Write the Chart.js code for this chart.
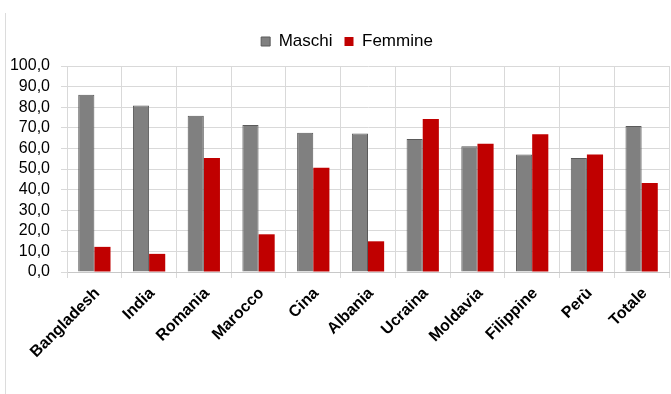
<!DOCTYPE html>
<html>
<head>
<meta charset="utf-8">
<script src="https://cdn.jsdelivr.net/npm/chart.js@4.4.1/dist/chart.umd.min.js"></script>
<style>
    body { margin: 0; background: #fff; }
    #wrap { position: relative; width: 671px; height: 394px; }
    #side-line { position: absolute; left: 5px; top: 13px; width: 1px; height: 381px; background: #dcdcdc; }
</style>
</head>
<body>
<div id="wrap">
    <div id="side-line"></div>
    <canvas id="myChart" width="671" height="394"></canvas>
</div>
<script>
/*** Data ***/
const paesi = ["Bangladesh", "India", "Romania", "Marocco", "Cina", "Albania", "Ucraina", "Moldavia", "Filippine", "Perù", "Totale"];
const maschi = [86.0, 80.8, 75.9, 71.4, 67.6, 67.2, 64.6, 61.1, 57.0, 55.4, 70.9];
const femmine = [12.2, 8.8, 55.3, 18.3, 50.6, 14.9, 74.3, 62.2, 66.9, 57.0, 43.2];
const yMin = 0;
const yMax = 100;
const yStep = 10;

const fontFamily = "'Liberation Sans', Arial, sans-serif";

// legend: more room below it, and nudged right a bit
const legendTweak = {
    id: 'legendTweak',
    beforeInit(chart) {
        const origFit = chart.legend.fit;
        chart.legend.fit = function fit() {
            origFit.bind(chart.legend)();
            this.height += 6;
        };
    },
    afterLayout(chart) {
        chart.legend.left += 25;
    }
};

function renderChart() {
    const chartData = {
        labels: paesi,
        datasets: [{
            label: 'Maschi',
            data: maschi,
            backgroundColor: '#808080',
            borderColor: '#5a5a5a',
            borderWidth: 1
        }, {
            label: 'Femmine',
            data: femmine,
            backgroundColor: '#c00000',
            borderColor: '#b00000',
            borderWidth: 0
        }]
    };

    const options = {
        responsive: false,
        animation: false,
        datasets: {
            bar: { categoryPercentage: 0.59, barPercentage: 1.0 }
        },
        layout: { padding: { top: 21, right: 2, left: 0, bottom: 0 } },
        plugins: {
            legend: {
                position: 'top',
                labels: {
                    color: '#000',
                    font: { family: fontFamily, size: 17 },
                    boxWidth: 9,
                    boxHeight: 9,
                    padding: 12
                }
            },
            tooltip: { enabled: false }
        },
        scales: {
            x: {
                grid: { color: '#d9d9d9', tickLength: 6, offset: true },
                border: { color: '#c8c8c8' },
                ticks: {
                    color: '#000',
                    font: { family: fontFamily, size: 16, weight: 'bold' },
                    minRotation: 45,
                    maxRotation: 45,
                    padding: 6,
                    labelOffset: 3
                },
                afterFit(scale) { scale.height = 122; }
            },
            y: {
                min: yMin,
                max: yMax,
                grid: { color: '#d9d9d9', tickLength: 6 },
                border: { color: '#d9d9d9' },
                ticks: {
                    stepSize: yStep,
                    autoSkip: false,
                    color: '#000',
                    font: { family: fontFamily, size: 16 },
                    padding: 11,
                    callback: (v) => v.toFixed(1).replace('.', ',')
                },
                afterFit(scale) { scale.width = 67; }
            }
        }
    };

    const ctx = document.getElementById('myChart').getContext('2d');
    window.myChart = new Chart(ctx, {
        type: 'bar',
        data: chartData,
        options: options,
        plugins: [legendTweak]
    });
}
renderChart();
</script>
</body>
</html>
